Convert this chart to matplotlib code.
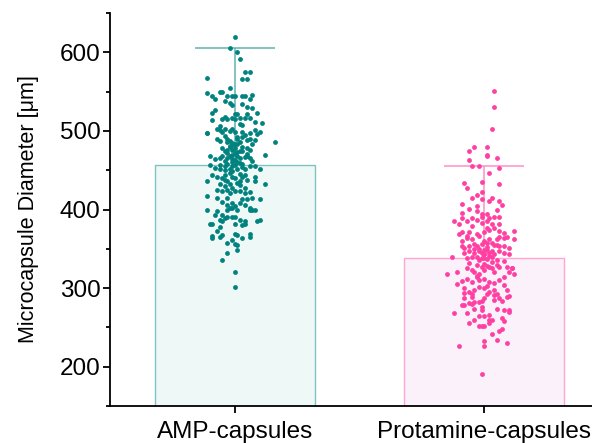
import matplotlib
matplotlib.use("Agg")
import matplotlib.pyplot as plt
from matplotlib.ticker import MultipleLocator

plt.rcParams['font.family'] = ['Liberation Sans', 'DejaVu Sans']

groups = ['AMP-capsules', 'Protamine-capsules']
means = [457, 338]
upper_err = [148, 118]

# individual capsules: horizontal jitter (category units) and diameter
amp_dx = [0.00, -0.02, 0.01, 0.02, -0.11, 0.04, 0.06, 0.03, 0.05, -0.02,
          -0.11, -0.09, -0.08, -0.06, -0.05, -0.03, -0.01, 0.00, 0.03, 0.04,
          0.07, 0.06, -0.01, 0.03, 0.05, 0.07, -0.09, 0.00, 0.01,
          -0.05, -0.04, -0.03, -0.01, 0.00, 0.02, 0.04, 0.06, 0.11,
          -0.11, -0.11, -0.07, -0.06, -0.05, -0.04, -0.02, -0.01, 0.00, 0.03,
          0.04, 0.06, 0.08, 0.09, 0.10, 0.16, -0.07, -0.06,
          -0.04, -0.03, -0.02, -0.01, -0.01, 0.00, 0.01, 0.02, 0.03, 0.05,
          0.06, 0.07, 0.08,
          -0.05, -0.04, -0.03, -0.02, -0.01, 0.01, 0.03, 0.05, 0.06, 0.12,
          0.05, -0.03,
          -0.10, -0.08, -0.06, -0.05, -0.04, -0.03, -0.02, -0.01, 0.01, 0.02,
          0.04, 0.05, 0.06, 0.07,
          -0.06, -0.04, -0.03, -0.01, 0.00, 0.02, 0.03, -0.10, -0.08, -0.06,
          -0.04, -0.02, -0.01, 0.01, 0.03, 0.04, 0.06, 0.08, 0.10,
          -0.11, -0.09, -0.07, -0.05, -0.04, -0.03, -0.01, 0.00, 0.02, 0.03,
          0.04, 0.05, 0.08, 0.08, 0.12,
          -0.06, -0.04, -0.02, -0.01, 0.01, 0.02, 0.04,
          -0.07, -0.05, -0.03, -0.02, 0.00, 0.02, 0.04, 0.06, 0.07, 0.10,
          -0.11, -0.07, -0.05, -0.03, -0.03, -0.01, 0.00, 0.02, 0.03, 0.04,
          0.05, 0.06, 0.08, 0.06, -0.03, -0.02, -0.01, 0.01, -0.11,
          -0.08, -0.05, -0.04, -0.03, -0.01, 0.00, 0.02, 0.04, -0.06, -0.05,
          0.09, 0.10, 0.04, -0.09, 0.00, -0.07, 0.07,
          -0.10, -0.09, -0.09, -0.07, -0.06, -0.05, -0.06, 0.00, 0.01, 0.03,
          0.06, 0.06, 0.03, -0.03, -0.01, 0.00, 0.01, -0.03, 0.01, -0.05,
          0.00, 0.00,
          -0.02, 0.00, 0.01, -0.01, 0.02, -0.03, 0.00, 0.01, -0.02, 0.02,
          -0.01, 0.00, 0.03, -0.04, 0.01,
          -0.08, -0.04, 0.02, 0.05, -0.06, 0.08, -0.02, 0.03, 0.09, -0.09]
amp_y = [619, 605, 601, 592, 568, 575, 575, 566, 566, 555,
         548, 545, 541, 549, 550, 544, 544, 544, 544, 544,
         546, 541, 533, 534, 530, 529, 523, 522, 522,
         515, 518, 515, 517, 515, 517, 516, 516, 510,
         497, 498, 502, 501, 499, 502, 500, 503, 499, 499,
         495, 498, 501, 496, 499, 486, 490, 487,
         493, 490, 487, 485, 482, 484, 490, 486, 492, 488,
         490, 484, 488,
         478, 475, 476, 479, 476, 473, 475, 478, 476, 469,
         471, 472,
         468, 464, 466, 468, 462, 466, 468, 464, 468, 465,
         467, 468, 466, 462,
         457, 455, 458, 455, 457, 459, 458, 457, 453, 451,
         450, 452, 449, 451, 454, 451, 455, 455, 451,
         436, 444, 442, 440, 438, 436, 442, 440, 436, 442,
         444, 438, 442, 436, 432,
         433, 430, 432, 428, 434, 431, 427,
         425, 423, 425, 421, 423, 424, 421, 422, 415, 413,
         417, 415, 410, 415, 406, 408, 404, 408, 413, 406,
         413, 402, 400, 400, 400, 402, 402, 400, 400,
         393, 393, 389, 391, 390, 391, 387, 386, 387, 385,
         386, 387, 382, 382, 381, 398, 399,
         381, 366, 364, 373, 378, 368, 365, 369, 367, 380,
         369, 365, 364, 358, 361, 356, 355, 345, 348, 336,
         321, 302,
         481, 478, 483, 470, 474, 486, 463, 461, 447, 445,
         460, 472, 480, 444, 492,
         527, 538, 509, 521, 506, 512, 535, 507, 523, 514]

prot_dx = [0.04, 0.04, 0.03, -0.06, -0.04, 0.01, 0.01, 0.01, 0.05, -0.06,
           -0.05, -0.02, 0.06, 0.02, -0.08, -0.07, -0.01, 0.06, -0.01,
           -0.09, -0.05, -0.03, -0.01, 0.02, 0.03, 0.06, 0.07, -0.09, -0.06,
           -0.03, -0.03, -0.01, -0.01, 0.01, 0.02, 0.04, 0.06, 0.05, -0.12,
           -0.09, -0.10, -0.07, -0.05, -0.03, -0.01, 0.01, 0.01, 0.03, 0.06,
           -0.05, -0.09, -0.10, -0.07, -0.03, -0.02, 0.00, 0.02, 0.04, 0.06,
           0.08, 0.12, 0.12, 0.06, 0.08, 0.09, -0.07, -0.05, -0.09, -0.09,
           -0.08, -0.06, -0.04, -0.03, 0.00, 0.01, 0.02, 0.04, 0.05, 0.06,
           0.08, 0.10, -0.08, -0.06, -0.04, -0.02, 0.00, 0.02, 0.03, 0.04,
           0.06, 0.08, 0.10, -0.07, -0.05, -0.03, -0.01, 0.01, 0.03, 0.05,
           0.08, -0.13, 0.11, 0.12,
           -0.02, 0.00, 0.01, -0.01, 0.02, -0.04, 0.03, 0.00, -0.01, 0.01,
           -0.06, -0.03, 0.00, 0.03, 0.05,
           -0.07, -0.05, -0.04, -0.02, -0.01, 0.00, 0.02, 0.03, 0.04, 0.06,
           0.09, 0.11, -0.15, -0.11,
           -0.07, -0.05, -0.03, -0.02, 0.00, 0.02, 0.04, 0.06, 0.08, 0.10,
           -0.11, -0.09,
           -0.08, -0.06, -0.04, -0.02, 0.00, 0.02, 0.04, 0.05, 0.08, 0.09,
           -0.08, -0.05, 0.01, 0.04, 0.06, 0.09, 0.10,
           -0.09, -0.08, -0.06, -0.05, -0.04, -0.02, -0.01, 0.00,
           -0.04, -0.01, 0.05, 0.08, 0.10, 0.10, -0.12, -0.07,
           -0.02, 0.00, 0.02, 0.03, 0.07, 0.08, -0.06, -0.02, -0.01, 0.00,
           0.02, 0.06, 0.07, 0.00, 0.00, 0.05, 0.09, -0.10, -0.01,
           -0.03, 0.01, -0.05, 0.04, -0.01, 0.02, -0.04, 0.03, 0.07, -0.08,
           0.00, -0.02, 0.05, -0.06, 0.01]
prot_y = [551, 531, 503, 474, 479, 480, 468, 470, 466, 463,
          456, 456, 453, 447, 434, 428, 435, 433, 422,
          407, 415, 418, 413, 411, 415, 411, 406, 396, 401,
          404, 398, 394, 391, 394, 389, 391, 391, 400, 386,
          389, 382, 385, 389, 387, 383, 385, 377, 382, 381,
          379, 372, 369, 366, 369, 366, 372, 374, 377, 373,
          370, 373, 363, 365, 364, 365, 364, 362, 360, 353,
          351, 354, 356, 353, 360, 357, 362, 355, 355, 353,
          353, 351, 345, 347, 345, 347, 349, 345, 347, 343,
          347, 345, 343, 338, 339, 340, 338, 337, 339, 336,
          334, 339, 326, 318,
          350, 343, 352, 356, 341, 350, 358, 338, 345, 348,
          332, 330, 331, 333, 330,
          325, 323, 321, 318, 327, 323, 327, 325, 321, 327,
          327, 326, 318, 320,
          312, 308, 314, 310, 312, 308, 306, 310, 314, 320,
          305, 309,
          300, 295, 297, 302, 300, 295, 297, 293, 304, 297,
          294, 293, 292, 291, 287, 289, 290,
          278, 278, 281, 280, 282, 282, 284, 287,
          274, 272, 274, 272, 272, 270, 268, 268,
          264, 264, 260, 260, 262, 258, 256, 252, 252, 252,
          256, 246, 248, 233, 226, 234, 230, 226, 191,
          316, 303, 289, 285, 276, 266, 259, 241, 283, 288,
          344, 336, 362, 371, 328]

point_colors = ['#00827f', '#ff3fa2']
bar_faces = ['#eef8f6', '#fbf1fb']
bar_edges = ['#80c4c0', '#ffa6d4']
err_colors = ['#5fb4b0', '#ff8ec8']

fig = plt.figure(figsize=(5.92, 4.43), dpi=100)
ax = fig.add_axes([0.186, 0.0835, 0.83, 0.887])

pos = [1, 2]
ax.bar(pos, means, width=0.64, color=bar_faces, edgecolor=bar_edges,
       linewidth=1.0, zorder=1)

for i, p in enumerate(pos):
    top = means[i] + upper_err[i]
    ax.vlines(p, means[i], top, color=err_colors[i], lw=1.1, zorder=2)
    ax.hlines(top, p - 0.16, p + 0.16, color=err_colors[i], lw=1.1, zorder=2)

ax.scatter([1 + d for d in amp_dx], amp_y, s=12, color=point_colors[0],
           linewidths=0, zorder=3)
ax.scatter([2 + d for d in prot_dx], prot_y, s=12, color=point_colors[1],
           linewidths=0, zorder=3)

ax.set_xlim(0.5, 2.47)
ax.set_ylim(150, 650)
ax.set_xticks(pos)
ax.set_xticklabels(groups, fontsize=17.5)
ax.yaxis.set_minor_locator(MultipleLocator(50))
ax.set_yticks([200, 300, 400, 500, 600])
ax.tick_params(axis='y', labelsize=17.5, width=1.3, length=5, pad=2)
ax.tick_params(axis='y', which='minor', width=1.3, length=3)
ax.tick_params(axis='x', width=1.3, length=5, pad=6)
ax.set_ylabel('Microcapsule Diameter [μm]', fontsize=15.5, labelpad=15)

for side in ['top', 'right']:
    ax.spines[side].set_visible(False)
for side in ['left', 'bottom']:
    ax.spines[side].set_linewidth(1.3)

fig.savefig('out.png', dpi=100)
